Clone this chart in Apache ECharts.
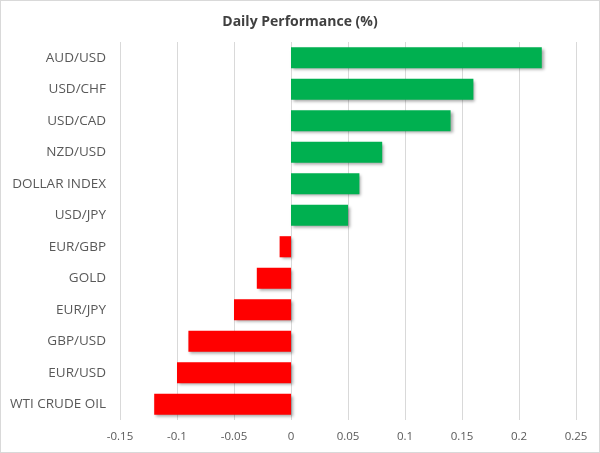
<!DOCTYPE html>
<html>
<head>
<meta charset="utf-8">
<script src="https://cdn.jsdelivr.net/npm/echarts@6/dist/echarts.min.js"></script>
<style>
html,body{margin:0;padding:0;background:#fff;}
#c{width:598px;height:451px;border:1px solid #d9d9d9;}
</style>
</head>
<body>
<div id="c"></div>
<script>
const categories = ["AUD/USD","USD/CHF","USD/CAD","NZD/USD","DOLLAR INDEX","USD/JPY","EUR/GBP","GOLD","EUR/JPY","GBP/USD","EUR/USD","WTI CRUDE OIL"];
const values = [0.22,0.16,0.14,0.08,0.06,0.05,-0.01,-0.03,-0.05,-0.09,-0.10,-0.12];
const titleText = "Daily Performance (%)";

const chart = echarts.init(document.getElementById('c'));
chart.setOption({
  animation:false,
  title:{text:titleText,left:'center',top:9,textStyle:{fontFamily:'Open Sans',fontSize:14,fontWeight:'bold',color:'#404040'}},
  grid:{left:119,right:23,top:41,bottom:32},
  xAxis:{type:'value',min:-0.15,max:0.25,interval:0.05,
    axisLine:{show:false},axisTick:{show:false},
    splitLine:{lineStyle:{color:'#d9d9d9'}},
    axisLabel:{color:'#595959',fontFamily:'Open Sans',fontSize:11.5,margin:11,
      formatter:v=>String(Math.round(v*100)/100)}},
  yAxis:{type:'category',data:categories,inverse:true,
    axisLine:{show:false},axisTick:{show:false},
    axisLabel:{color:'#595959',fontFamily:'Open Sans',fontSize:13.5,margin:14}},
  series:[{type:'bar',data:values,barCategoryGap:'33%',
    itemStyle:{color:p=>p.value>=0?'#00B050':'#FF0000',
      shadowColor:'rgba(0,0,0,0.35)',shadowBlur:3,shadowOffsetX:2,shadowOffsetY:2}}]
});
</script>
</body>
</html>
